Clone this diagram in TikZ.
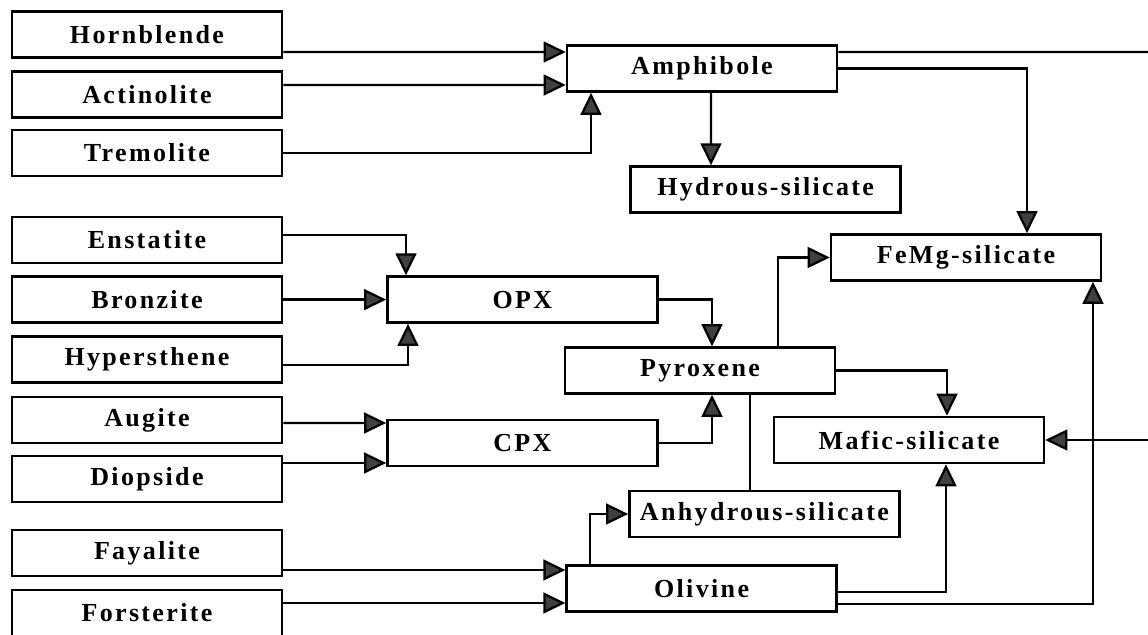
\documentclass[tikz,border=0pt]{standalone}
\usepackage{fontspec}
\setmainfont{Liberation Serif}
\newfontfamily\mineralfont{Liberation Serif Bold}[LetterSpace=9]
\usepackage{tikz}
\usetikzlibrary{arrows.meta}

\begin{document}
\begin{tikzpicture}[
  box/.style={draw, line width=1.8pt, minimum width=6.75cm, minimum height=1.15cm,
    inner sep=0pt, font=\mineralfont\fontsize{18.5}{21}\selectfont},
  flow/.style={line width=1.6pt, -{Triangle[length=0.55cm,width=0.52cm,fill=black!75]}},
  link/.style={line width=1.6pt}]
\clip (0,0) rectangle (28.7,15.85);
% source minerals
\node[box] (horn)  at (3.675,14.99) {Hornblende};
\node[box] (act)   at (3.675,13.49) {Actinolite};
\node[box] (trem)  at (3.675,12.025) {Tremolite};
\node[box] (enst)  at (3.675,9.85) {Enstatite};
\node[box] (bron)  at (3.675,8.36) {Bronzite};
\node[box] (hyp)   at (3.675,6.86) {Hypersthene};
\node[box] (aug)   at (3.675,5.35) {Augite};
\node[box] (diop)  at (3.675,3.875) {Diopside};
\node[box] (fay)   at (3.675,2.025) {Fayalite};
\node[box] (forst) at (3.675,0.525) {Forsterite};
% groups
\node[box] (amph)  at (17.55,14.1375) {Amphibole};
\node[box] (opx)   at (13.06,8.36) {OPX};
\node[box] (cpx)   at (13.06,4.775) {CPX};
\node[box] (pyr)   at (17.5,6.5875) {Pyroxene};
\node[box] (oliv)  at (17.54,1.1375) {Olivine};
% classes
\node[box] (hyd)   at (19.14,11.11) {Hydrous-silicate};
\node[box] (anhyd) at (19.11,3.0) {Anhydrous-silicate};
\node[box] (femg)  at (24.15,9.4125) {FeMg-silicate};
\node[box] (mafic) at (22.725,4.85) {Mafic-silicate};
% lines leaving the page on the right
\coordinate (amphout) at (28.8,14.55);
\coordinate (maficin) at (28.8,4.85);

% amphibole
\draw[flow] ([yshift=-0.44cm]horn.east) -- ([yshift=0.4125cm]amph.west);
\draw[flow] ([yshift=0.235cm]act.east) -- ([yshift=-0.4125cm]amph.west);
\draw[flow] (trem.east) -| ([xshift=-2.775cm]amph.south);
\draw[link] ([yshift=0.4125cm]amph.east) -- (amphout);
\draw[flow] (amph.east) -| ([xshift=1.525cm]femg.north);
\draw[flow] ([xshift=0.225cm]amph.south) -- ([xshift=-1.365cm]hyd.north);
% pyroxene
\draw[flow] ([yshift=0.125cm]enst.east) -| ([xshift=-2.91cm]opx.north);
\draw[flow] (bron.east) -- (opx.west);
\draw[flow] ([yshift=-0.135cm]hyp.east) -| ([xshift=-2.86cm]opx.south);
\draw[flow] (opx.east) -| ([xshift=0.3cm]pyr.north);
\draw[flow] ([yshift=-0.075cm]aug.east) -- ([yshift=0.5cm]cpx.west);
\draw[flow] ([yshift=0.4cm]diop.east) -- ([yshift=-0.5cm]cpx.west);
\draw[flow] (cpx.east) -| ([xshift=0.3cm]pyr.south);
\draw[flow] ([xshift=1.95cm]pyr.north) |- (femg.west);
\draw[flow] (pyr.east) -| ([xshift=0.95cm]mafic.north);
\draw[link] ([xshift=1.25cm]pyr.south) -- ([xshift=-0.36cm]anhyd.north);
\draw[flow] (maficin) -- (mafic.east);
% olivine
\draw[flow] ([yshift=-0.425cm]fay.east) -- ([yshift=0.4625cm]oliv.west);
\draw[flow] ([yshift=0.25cm]forst.east) -- ([yshift=-0.3625cm]oliv.west);
\draw[flow] ([xshift=-2.79cm]oliv.north) |- (anhyd.west);
\draw[flow] ([yshift=-0.0875cm]oliv.east) -| ([xshift=0.925cm]mafic.south);
\draw[flow] ([yshift=-0.3875cm]oliv.east) -| ([xshift=3.175cm]femg.south);
\end{tikzpicture}
\end{document}
